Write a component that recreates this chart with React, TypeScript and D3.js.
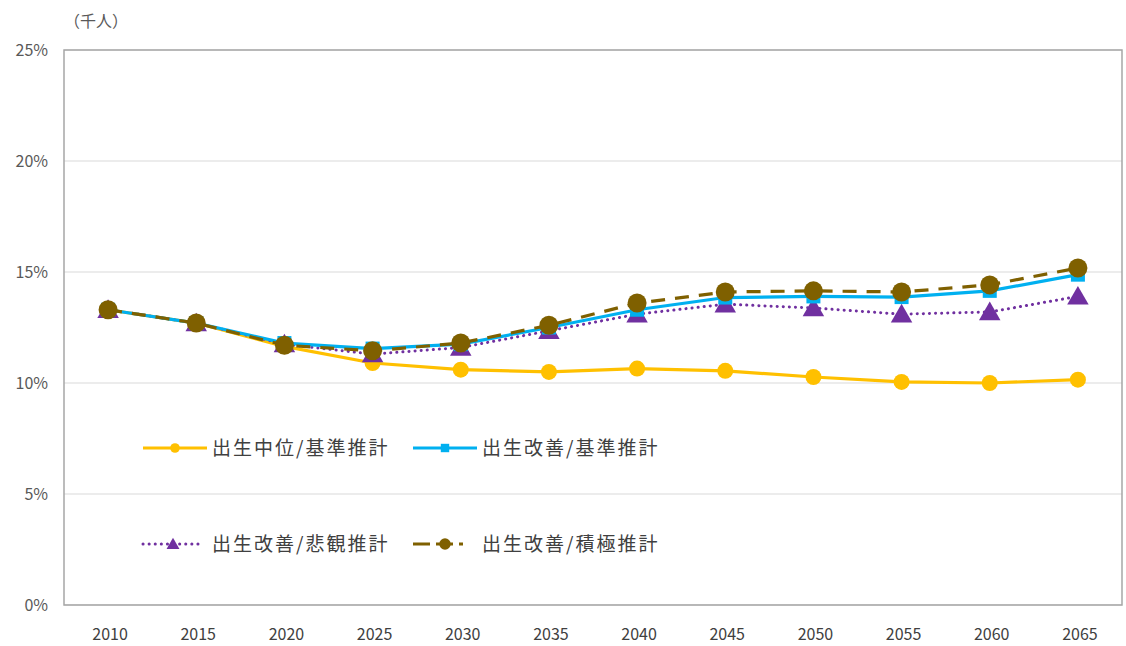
import { useEffect, useRef } from 'react';
import * as d3 from 'd3';

const years = ["2010", "2015", "2020", "2025", "2030", "2035", "2040", "2045", "2050", "2055", "2060", "2065"];
const chuiKijun = [13.3, 12.7, 11.65, 10.9, 10.6, 10.5, 10.65, 10.55, 10.27, 10.05, 10.0, 10.15];
const kaizenKijun = [13.3, 12.7, 11.8, 11.55, 11.75, 12.5, 13.3, 13.85, 13.9, 13.87, 14.15, 14.88];
const kaizenHikan = [13.3, 12.7, 11.75, 11.3, 11.6, 12.35, 13.1, 13.55, 13.38, 13.1, 13.2, 13.9];
const kaizenSekkyoku = [13.3, 12.7, 11.7, 11.45, 11.8, 12.6, 13.6, 14.1, 14.15, 14.1, 14.42, 15.18];
const yTicks = [0, 5, 10, 15, 20, 25];

interface Series {
  name: string;
  values: number[];
  color: string;
  dash: string;
  marker: 'circle' | 'square' | 'triangle' | 'bigcircle';
}

const series: Series[] = [
  { name: "出生中位/基準推計", values: chuiKijun, color: "#FFC000", dash: "", marker: "circle" },
  { name: "出生改善/悲観推計", values: kaizenHikan, color: "#7030A0", dash: "0.1 6", marker: "triangle" },
  { name: "出生改善/基準推計", values: kaizenKijun, color: "#00B0F0", dash: "", marker: "square" },
  { name: "出生改善/積極推計", values: kaizenSekkyoku, color: "#7F6000", dash: "14 10", marker: "bigcircle" },
];

const legendOrder = [
  { idx: 0, col: 0, row: 0 },
  { idx: 2, col: 1, row: 0 },
  { idx: 1, col: 0, row: 1 },
  { idx: 3, col: 1, row: 1 },
];

const FONT = "'Noto Sans CJK JP', 'Noto Sans', sans-serif";

export default function App() {
  const ref = useRef<SVGSVGElement | null>(null);

  useEffect(() => {
    if (!ref.current) return;
    const svg = d3.select(ref.current);
    svg.selectAll("*").remove();

    const width = 1126;
    const height = 646;
    const margin = { top: 50, right: 4, bottom: 41, left: 64 };

    const x = d3.scaleBand()
      .domain(years)
      .range([margin.left, width - margin.right]);

    const y = d3.scaleLinear()
      .domain([0, 25])
      .range([height - margin.bottom, margin.top]);

    // grid
    svg.append("g")
      .selectAll("line")
      .data(yTicks)
      .enter()
      .append("line")
      .attr("x1", margin.left)
      .attr("x2", width - margin.right)
      .attr("y1", d => y(d))
      .attr("y2", d => y(d))
      .attr("stroke", "#d9d9d9")
      .attr("stroke-width", 1.2);

    svg.append("rect")
      .attr("x", margin.left)
      .attr("y", margin.top)
      .attr("width", width - margin.left - margin.right)
      .attr("height", height - margin.top - margin.bottom)
      .attr("fill", "none")
      .attr("stroke", "#a6a6a6")
      .attr("stroke-width", 1.5);

    // y tick labels
    svg.append("g")
      .selectAll("text")
      .data(yTicks)
      .enter()
      .append("text")
      .attr("x", margin.left - 16)
      .attr("y", d => y(d))
      .attr("dy", "0.35em")
      .attr("text-anchor", "end")
      .attr("font-family", FONT)
      .attr("font-size", "16px")
      .attr("fill", "#595959")
      .text(d => `${d}%`);

    // x tick labels
    svg.append("g")
      .selectAll("text")
      .data(years)
      .enter()
      .append("text")
      .attr("x", d => x(d)! + x.bandwidth() / 2 + 2)
      .attr("y", 634)
      .attr("dy", "0.35em")
      .attr("text-anchor", "middle")
      .attr("font-family", FONT)
      .attr("font-size", "16px")
      .attr("fill", "#404040")
      .text(d => d);

    svg.append("text")
      .attr("x", 64)
      .attr("y", 21)
      .attr("dy", "0.35em")
      .attr("font-family", FONT)
      .attr("font-size", "16px")
      .attr("fill", "#595959")
      .text("（千人）");

    const cx = (i: number) => x(years[i])! + x.bandwidth() / 2;

    const drawMarker = (g: d3.Selection<SVGGElement, unknown, null, undefined>, s: Series, px: number, py: number, scale: number) => {
      if (s.marker === "circle") {
        g.append("circle").attr("cx", px).attr("cy", py).attr("r", 8 * scale).attr("fill", s.color);
      } else if (s.marker === "bigcircle") {
        g.append("circle").attr("cx", px).attr("cy", py).attr("r", 9.5 * scale).attr("fill", s.color);
      } else if (s.marker === "square") {
        const h = 7 * scale;
        g.append("rect").attr("x", px - h).attr("y", py - h).attr("width", 2 * h).attr("height", 2 * h).attr("fill", s.color);
      } else {
        g.append("path")
          .attr("transform", `translate(${px},${py + 2 * scale})`)
          .attr("d", d3.symbol().type(d3.symbolTriangle).size(200 * scale * scale)())
          .attr("fill", s.color);
      }
    };

    const line = d3.line<number>()
      .x((_, i) => cx(i))
      .y(d => y(d));

    series.forEach(s => {
      const g = svg.append("g");
      g.append("path")
        .datum(s.values)
        .attr("fill", "none")
        .attr("stroke", s.color)
        .attr("stroke-width", s.marker === "triangle" ? 3 : 3.2)
        .attr("stroke-linecap", s.marker === "triangle" ? "round" : "butt")
        .attr("stroke-dasharray", s.dash || null)
        .attr("d", line);
      s.values.forEach((v, i) => drawMarker(g, s, cx(i), y(v), 1));
    });

    // legend
    const legX = [143, 413];
    const legY = [448, 544];
    legendOrder.forEach(({ idx, col, row }) => {
      const s = series[idx];
      const g = svg.append("g");
      const x0 = legX[col];
      const yy = legY[row];
      const len = s.marker === "bigcircle" ? 50 : s.marker === "triangle" ? 58 : 64;
      g.append("line")
        .attr("x1", x0)
        .attr("x2", x0 + len)
        .attr("y1", yy)
        .attr("y2", yy)
        .attr("stroke", s.color)
        .attr("stroke-width", 3)
        .attr("stroke-linecap", s.marker === "triangle" ? "round" : "butt")
        .attr("stroke-dasharray", s.marker === "bigcircle" ? "17 6" : (s.dash || null));
      drawMarker(g, s, x0 + (s.marker === "bigcircle" ? 32 : s.marker === "triangle" ? 30 : len / 2), yy, 0.6);
      g.append("text")
        .attr("x", x0 + 69)
        .attr("y", yy)
        .attr("dy", "0.35em")
        .attr("font-family", FONT)
        .attr("font-size", "19px")
        .attr("letter-spacing", "2px")
        .attr("fill", "#404040")
        .text(s.name);
    });
  }, []);

  return (
    <svg
      ref={ref}
      width={1126}
      height={646}
      style={{ position: "absolute", left: 0, top: 0, background: "#fff" }}
    />
  );
}
